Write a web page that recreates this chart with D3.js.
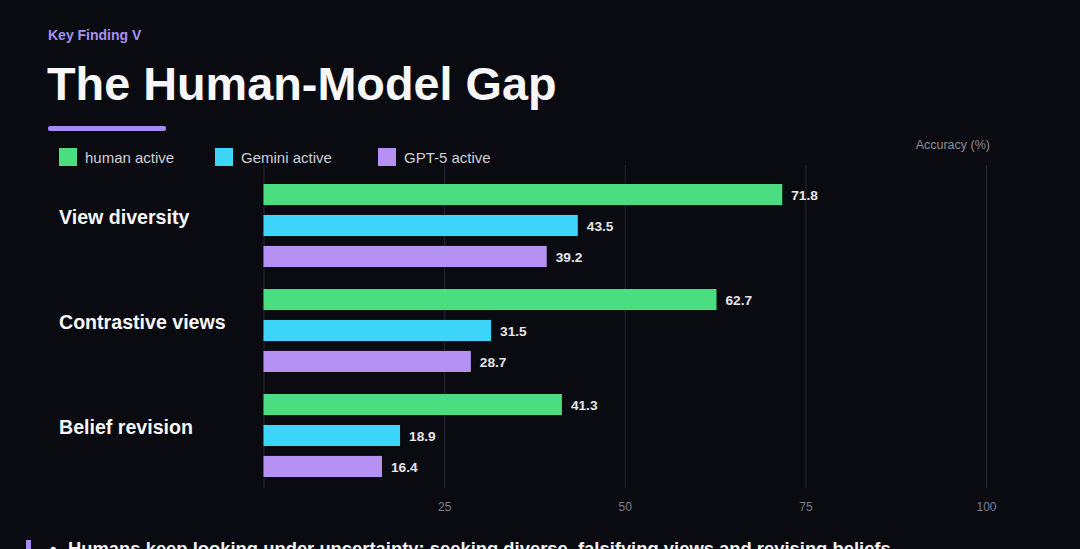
<!DOCTYPE html>
<html>
<head>
<meta charset="utf-8">
<script src="https://cdn.jsdelivr.net/npm/d3@7"></script>
<style>
  html, body { margin: 0; padding: 0; background: #0a0b11; overflow: hidden; }
  svg { display: block; font-family: "Liberation Sans", Arial, Helvetica, sans-serif; }
  .grid line { stroke: #262733; stroke-width: 1; }
  .grid text { fill: #7c7f8c; font-size: 12px; }
</style>
</head>
<body>
<div id="chart"></div>
<script>
const w = 1080
const h = 549

const categories = ['View diversity', 'Contrastive views', 'Belief revision']
const series = ['human active', 'Gemini active', 'GPT-5 active']
const colors = ['#4ade80', '#3dd6fa', '#b591f3']
const values = [
  [71.8, 43.5, 39.2],
  [62.7, 31.5, 28.7],
  [41.3, 18.9, 16.4]
]
const ticks = [0, 25, 50, 75, 100]

const svg = d3.select('#chart').append('svg')
  .attr('width', w)
  .attr('height', h)

svg.append('rect')
  .attr('width', w)
  .attr('height', h)
  .attr('fill', '#0a0b11')

// header
svg.append('text')
  .attr('x', 48).attr('y', 40)
  .attr('fill', '#a593f0')
  .attr('font-size', 14).attr('font-weight', 700)
  .text('Key Finding V')

svg.append('text')
  .attr('x', 47).attr('y', 100)
  .attr('fill', '#f7f7fa')
  .attr('font-size', 46.8).attr('font-weight', 700)
  .text('The Human-Model Gap')

svg.append('rect')
  .attr('x', 48).attr('y', 126)
  .attr('width', 118).attr('height', 5)
  .attr('rx', 2)
  .attr('fill', '#a98af0')

// legend
const legendX = [59, 215, 378]
const legend = svg.append('g')
  .selectAll('g')
  .data(series)
  .join('g')
  .attr('transform', (d, i) => `translate(${legendX[i]}, 148)`)

legend.append('rect')
  .attr('width', 18).attr('height', 18)
  .attr('fill', (d, i) => colors[i])

legend.append('text')
  .attr('x', 26).attr('y', 10)
  .attr('dy', '0.35em')
  .attr('fill', '#cfd0d8')
  .attr('font-size', 15)
  .text(d => d)

// scales
const x = d3.scaleLinear().domain([0, 100]).range([263.5, 986])
const y = d3.scaleBand().domain(categories).range([172, 487])
const ySub = d3.scaleBand().domain(series).range([12, 95]).paddingInner(0.32)

const xAxis = d3.axisBottom(x)
  .tickValues(ticks)
  .tickSize(-(488 - 165))
  .tickPadding(14)
  .tickFormat(d => d === 0 ? '' : d)

const $xAxis = svg.append('g')
  .attr('class', 'grid')
  .attr('transform', 'translate(0, 488)')
  .call(xAxis)
$xAxis.select('.domain').remove()
$xAxis.selectAll('text').attr('font-family', null)

svg.append('text')
  .attr('x', 990).attr('y', 145)
  .attr('text-anchor', 'end')
  .attr('dy', '0.35em')
  .attr('fill', '#8b8e9a')
  .attr('font-size', 12.5)
  .text('Accuracy (%)')

// bars
const group = svg.append('g')
  .selectAll('g')
  .data(categories)
  .join('g')
  .attr('transform', d => `translate(0, ${y(d)})`)

group.append('text')
  .attr('x', 59)
  .attr('y', y.bandwidth() / 2 - 7)
  .attr('dy', '0.35em')
  .attr('fill', '#f7f7fa')
  .attr('font-size', 19.6).attr('font-weight', 700)
  .text(d => d)

const bar = group.selectAll('g.bar')
  .data((d, ci) => series.map((s, si) => ({ s, si, v: values[ci][si] })))
  .join('g')
  .attr('class', 'bar')

bar.append('rect')
  .attr('x', x(0))
  .attr('y', d => ySub(d.s))
  .attr('width', d => x(d.v) - x(0))
  .attr('height', ySub.bandwidth())
  .attr('fill', d => colors[d.si])

bar.append('text')
  .attr('x', d => x(d.v) + 9)
  .attr('y', d => ySub(d.s) + ySub.bandwidth() / 2 + 1)
  .attr('dy', '0.35em')
  .attr('fill', '#e6e6ea')
  .attr('font-size', 13.7).attr('font-weight', 700)
  .text(d => d.v.toFixed(1))

// takeaway, cut off at the bottom edge as in the slide
svg.append('rect')
  .attr('x', 26).attr('y', 540)
  .attr('width', 5).attr('height', 20)
  .attr('fill', '#a98af0')

svg.append('text')
  .attr('x', 50).attr('y', 555)
  .attr('fill', '#f2f2f5')
  .attr('font-size', 18.4).attr('font-weight', 700)
  .text('•')

svg.append('text')
  .attr('x', 68).attr('y', 555)
  .attr('fill', '#f2f2f5')
  .attr('font-size', 18.4).attr('font-weight', 700)
  .text('Humans keep looking under uncertainty: seeking diverse, falsifying views and revising beliefs')
</script>
</body>
</html>
